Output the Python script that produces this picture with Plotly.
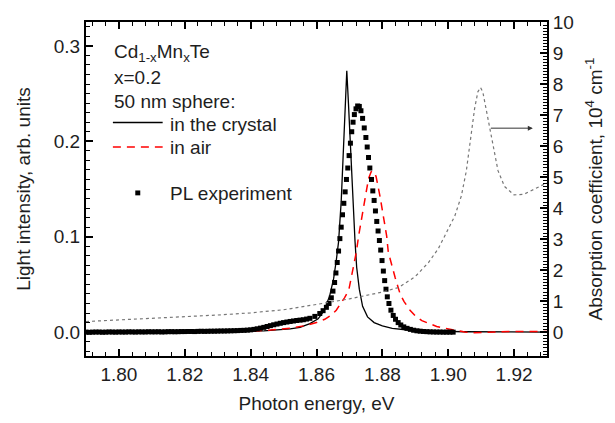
import plotly.graph_objects as go

# ---- data ----
crystal_x = [1.790, 1.800, 1.810, 1.820, 1.830, 1.836, 1.840, 1.844, 1.8486, 1.852, 1.855, 1.858,
             1.8605, 1.8622, 1.864, 1.8652, 1.866, 1.8667, 1.8675, 1.8682, 1.8687, 1.8692,
             1.8697, 1.8702, 1.8708, 1.8713, 1.8717, 1.8722, 1.873, 1.874, 1.8755, 1.8775,
             1.880, 1.883, 1.887, 1.895, 1.905, 1.930]
crystal_y = [0.0000, 0.0001, 0.0002, 0.0003, 0.0005, 0.0007, 0.0009, 0.0013, 0.0025, 0.0035, 0.0050, 0.0090,
             0.0140, 0.0220, 0.0380, 0.0560, 0.0750, 0.0946, 0.1370, 0.1970, 0.2400, 0.2740,
             0.2400, 0.2000, 0.1600, 0.1250, 0.0950, 0.0680, 0.0450, 0.0270, 0.0160, 0.0100,
             0.0065, 0.0040, 0.0025, 0.0010, 0.0004, 0.0001]

air_x = [1.790, 1.810, 1.825, 1.835, 1.840, 1.846, 1.852, 1.8565, 1.860, 1.8625, 1.8645, 1.866,
         1.8672, 1.8685, 1.8698, 1.8708, 1.8715, 1.8721, 1.8728, 1.8738, 1.8748, 1.8758, 1.8766,
         1.8771, 1.8776, 1.8781, 1.8793, 1.8803, 1.8813, 1.8818, 1.8828, 1.8839, 1.8854, 1.8866,
         1.8884, 1.890, 1.892, 1.894, 1.8965, 1.899, 1.902, 1.905, 1.907, 1.910, 1.915, 1.920, 1.930]
air_y = [0.0000, 0.0001, 0.0003, 0.0007, 0.0010, 0.0022, 0.0042, 0.0068, 0.0100, 0.0135, 0.0180, 0.0230,
         0.0290, 0.0360, 0.0440, 0.0600, 0.0720, 0.0840, 0.1010, 0.1220, 0.1420, 0.1610, 0.1680,
         0.1690, 0.1670, 0.1630, 0.1420, 0.1220, 0.1010, 0.0840, 0.0700, 0.0570, 0.0400, 0.0320,
         0.0230, 0.0170, 0.0120, 0.0090, 0.0060, 0.0040, 0.0018, 0.0002, -0.0008, -0.0004, 0.0005, 0.0008, 0.0008]

pl_x = [1.790, 1.791, 1.792, 1.793, 1.794, 1.795, 1.796, 1.797, 1.798, 1.799,
        1.800, 1.801, 1.802, 1.803, 1.804, 1.805, 1.806, 1.807, 1.808, 1.809,
        1.810, 1.811, 1.812, 1.813, 1.814, 1.815, 1.816, 1.817, 1.818, 1.819,
        1.820, 1.821, 1.822, 1.823, 1.824, 1.825, 1.826, 1.827, 1.828, 1.829,
        1.830, 1.831, 1.832, 1.833, 1.834, 1.835, 1.836, 1.837, 1.838, 1.839,
        1.840, 1.841, 1.842, 1.843, 1.844, 1.845, 1.846, 1.847, 1.848, 1.849,
        1.850, 1.851, 1.852, 1.853, 1.854, 1.855, 1.856, 1.857, 1.858,
        1.8595, 1.861, 1.862, 1.863,
        1.8638, 1.8645, 1.8650, 1.8655, 1.8659, 1.8663, 1.8667, 1.8671, 1.8675, 1.8679, 1.8683,
        1.8687, 1.8691, 1.8695, 1.8699, 1.8703, 1.8707, 1.8711, 1.8715, 1.8720, 1.8725, 1.8730,
        1.8735, 1.8740, 1.8745, 1.8750, 1.8754, 1.8758, 1.8762, 1.8767, 1.8771, 1.8775, 1.8779,
        1.8783, 1.8787, 1.8791, 1.8795, 1.8799, 1.8803, 1.8807, 1.8811, 1.8815, 1.8820, 1.8826,
        1.8833, 1.8840, 1.8848, 1.8856, 1.8865, 1.8875, 1.8885, 1.8895, 1.8905, 1.8915, 1.8925,
        1.8935, 1.8945, 1.8955, 1.8965, 1.8975, 1.8985, 1.8995, 1.9005, 1.9015]
pl_y = [0.0000, -0.0002, 0.0000, 0.0001, 0.0001, -0.0001, 0.0000, 0.0002, 0.0001, 0.0000,
        0.0002, 0.0001, 0.0001, 0.0003, 0.0002, 0.0001, 0.0003, 0.0002, 0.0002, 0.0004,
        0.0003, 0.0003, 0.0004, 0.0002, 0.0003, 0.0005, 0.0005, 0.0004, 0.0005, 0.0006,
        0.0006, 0.0007, 0.0007, 0.0006, 0.0008, 0.0009, 0.0008, 0.0009, 0.0010, 0.0010,
        0.0011, 0.0012, 0.0012, 0.0013, 0.0014, 0.0015, 0.0016, 0.0018, 0.0019, 0.0021,
        0.0024, 0.0029, 0.0035, 0.0042, 0.0050, 0.0059, 0.0068, 0.0077, 0.0085, 0.0093,
        0.0100, 0.0106, 0.0112, 0.0117, 0.0122, 0.0126, 0.0130, 0.0137, 0.0145,
        0.0165, 0.0195, 0.0225, 0.0260,
        0.0300, 0.0360, 0.0430, 0.0520, 0.0620, 0.0730, 0.0850, 0.0980, 0.1100, 0.1230, 0.1350,
        0.1470, 0.1600, 0.1720, 0.1850, 0.1980, 0.2100, 0.2200, 0.2280, 0.2340, 0.2370, 0.2365,
        0.2320, 0.2240, 0.2140, 0.2040, 0.1940, 0.1830, 0.1720, 0.1600, 0.1480, 0.1380, 0.1270,
        0.1160, 0.1060, 0.0960, 0.0860, 0.0750, 0.0640, 0.0540, 0.0450, 0.0370, 0.0300, 0.0230,
        0.0175, 0.0135, 0.0100, 0.0075, 0.0055, 0.0040, 0.0029, 0.0020, 0.0014, 0.0010, 0.0007,
        0.0005, 0.0003, 0.0002, 0.0001, 0.0001, 0.0000, 0.0000, 0.0000, 0.0000]

abs_x = [1.790, 1.800, 1.810, 1.820, 1.830, 1.840, 1.850, 1.860, 1.870, 1.880, 1.885, 1.890, 1.894,
         1.897, 1.900, 1.902, 1.904, 1.9055, 1.907, 1.908, 1.909, 1.9098, 1.9105, 1.912, 1.9136,
         1.9151, 1.9171, 1.920, 1.923, 1.926, 1.930]
abs_y = [0.35, 0.40, 0.45, 0.50, 0.56, 0.63, 0.73, 0.90, 1.08, 1.30, 1.45, 1.80, 2.25,
         2.70, 3.30, 3.75, 4.40, 5.20, 6.40, 7.20, 7.75, 7.89, 7.75, 6.90, 5.96,
         5.22, 4.70, 4.43, 4.45, 4.62, 4.82]

x_ticks = [1.80, 1.82, 1.84, 1.86, 1.88, 1.90, 1.92]
y_ticks = [0.0, 0.1, 0.2, 0.3]
y2_ticks = [0, 1, 2, 3, 4, 5, 6, 7, 8, 9, 10]

legend_header = ["Cd<sub>1-x</sub>Mn<sub>x</sub>Te", "x=0.2", "50 nm sphere:"]
legend_items = ["in the crystal", "in air", "PL experiment"]

FONT = "Liberation Sans, Arial, sans-serif"
TXT = "#1e1e1e"

# plot-area geometry (pixels) used to place the hand-drawn key
L, R, T, B = 86, 549, 15, 357
def px(xp):
    return (xp - L) / (R - L)
def py(yp):
    return (B - yp) / (B - T)

fig = go.Figure()
fig.add_trace(go.Scatter(x=abs_x, y=abs_y, yaxis="y2", mode="lines", showlegend=False,
                         line=dict(color="#777777", width=1.2, dash="dot")))
fig.add_trace(go.Scatter(x=crystal_x, y=crystal_y, mode="lines", name=legend_items[0], showlegend=False,
                         line=dict(color="black", width=1.3)))
fig.add_trace(go.Scatter(x=air_x, y=air_y, mode="lines", name=legend_items[1], showlegend=False,
                         line=dict(color="#ff0000", width=1.5, dash="8px,6px")))
fig.add_trace(go.Scatter(x=pl_x, y=pl_y, mode="markers", name=legend_items[2], showlegend=False,
                         marker=dict(symbol="square", size=5, color="black", line=dict(width=0))))

fig.add_annotation(x=1.9257, y=6.58, xref="x", yref="y2", ax=1.9125, ay=6.58, axref="x", ayref="y2",
                   showarrow=True, arrowhead=2, arrowsize=1, arrowwidth=1, arrowcolor="#333333", text="")

# key: header lines
for txt, yc in zip(legend_header, [47, 72, 96]):
    fig.add_annotation(x=px(112), y=py(yc), xref="paper", yref="paper", text=txt, showarrow=False,
                       xanchor="left", yanchor="middle", font=dict(family=FONT, size=19, color=TXT))
# key: items
for txt, yc in zip(legend_items, [120, 144, 191]):
    fig.add_annotation(x=px(168), y=py(yc), xref="paper", yref="paper", text=txt, showarrow=False,
                       xanchor="left", yanchor="middle", font=dict(family=FONT, size=19, color=TXT))
fig.add_shape(type="line", xref="paper", yref="paper", x0=px(113), x1=px(163), y0=py(118), y1=py(118),
              line=dict(color="black", width=1.5))
fig.add_shape(type="line", xref="paper", yref="paper", x0=px(113), x1=px(163), y0=py(143), y1=py(143),
              line=dict(color="#ff0000", width=1.5, dash="8px,6px"))
fig.add_shape(type="rect", xref="paper", yref="paper", x0=px(135.5), x1=px(140.5), y0=py(192.5), y1=py(187.5),
              line=dict(width=0), fillcolor="black")

axis_common = dict(showline=True, linecolor="black", linewidth=2, ticks="inside",
                   tickcolor="black", tickwidth=1.5, ticklen=7, showgrid=False, zeroline=False,
                   tickfont=dict(family=FONT, size=19, color=TXT))

fig.update_layout(
    width=615, height=423,
    margin=dict(l=L, r=615 - R, t=T, b=423 - B),
    paper_bgcolor="white", plot_bgcolor="white",
    font=dict(family=FONT, size=19, color=TXT),
    showlegend=False,
    xaxis=dict(range=[1.79, 1.93], tickvals=x_ticks, tickformat=".2f", mirror="ticks",
               minor=dict(dtick=0.004, tick0=1.80, ticks="inside", ticklen=4, tickwidth=1.2, tickcolor="black"),
               title=dict(text="Photon energy, eV", font=dict(family=FONT, size=19, color=TXT), standoff=13),
               **axis_common),
    yaxis=dict(range=[-0.025, 0.325], tickvals=y_ticks, tickformat=".1f",
               minor=dict(dtick=0.01, tick0=0, ticks="inside", ticklen=4, tickwidth=1.2, tickcolor="black"),
               title=dict(text="Light intensity, arb. units", font=dict(family=FONT, size=19, color=TXT), standoff=18),
               **axis_common),
    yaxis2=dict(range=[-0.76, 10], tickvals=y2_ticks, overlaying="y", side="right",
                minor=dict(dtick=0.1, tick0=0, ticks="inside", ticklen=4, tickwidth=1, tickcolor="black"),
                title=dict(text="Absorption coefficient, 10<sup>4</sup> cm<sup>-1</sup>",
                           font=dict(family=FONT, size=19, color=TXT), standoff=16),
                **axis_common),
)

fig.write_html("out.html")
